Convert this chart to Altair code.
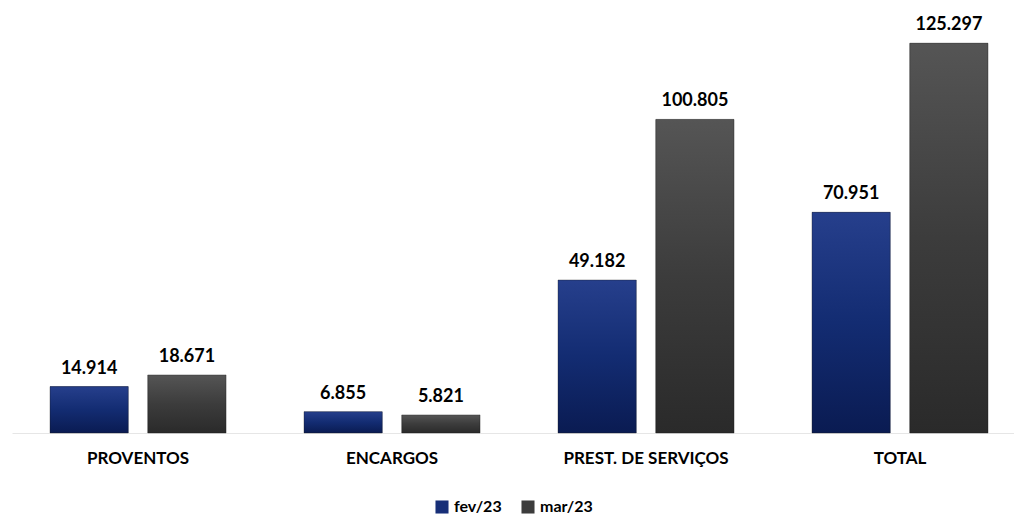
import altair as alt
import pandas as pd

categorias = ["PROVENTOS", "ENCARGOS", "PREST. DE SERVIÇOS", "TOTAL"]
series = ["fev/23", "mar/23"]
fev = [14.914, 6.855, 49.182, 70.951]
mar = [18.671, 5.821, 100.805, 125.297]

rows = []
for c, a, b in zip(categorias, fev, mar):
    rows.append({"cat": c, "serie": series[0], "valor": a, "rotulo": f"{a:.3f}"})
    rows.append({"cat": c, "serie": series[1], "valor": b, "rotulo": f"{b:.3f}"})
df = pd.DataFrame(rows)

FONT = "Lato"

grad_azul = {"gradient": "linear", "x1": 0, "y1": 0, "x2": 0, "y2": 1,
             "stops": [{"offset": 0, "color": "#263f8c"},
                       {"offset": 0.5, "color": "#132c72"},
                       {"offset": 1, "color": "#0a1b52"}]}
grad_cinza = {"gradient": "linear", "x1": 0, "y1": 0, "x2": 0, "y2": 1,
              "stops": [{"offset": 0, "color": "#555555"},
                        {"offset": 0.5, "color": "#3c3c3c"},
                        {"offset": 1, "color": "#2a2a2a"}]}

x = alt.X("cat:N", sort=categorias, title=None,
          scale=alt.Scale(paddingInner=0.307, paddingOuter=0.126, align=0.594),
          axis=alt.Axis(labelAngle=0, labelFont=FONT, labelFontWeight="bold",
                        labelFontSize=17, labelColor="#000", labelPadding=17,
                        ticks=False, domainColor="#e6e6e6", domainWidth=1))
xo = alt.XOffset("serie:N", sort=series, scale=alt.Scale(paddingInner=0.2, paddingOuter=0))
y = alt.Y("valor:Q", title=None, scale=alt.Scale(domain=[0, 135], nice=False),
          axis=None)

base = alt.Chart(df).encode(x=x, xOffset=xo, y=y)

bars = base.mark_bar().encode(
    color=alt.Color("serie:N", sort=series, title=None,
                    scale=alt.Scale(domain=series, range=["#172f78", "#3c3c3c"]),
                    legend=alt.Legend(orient="none", legendX=422, legendY=486,
                                      direction="horizontal",
                                      symbolType="square", symbolSize=170,
                                      symbolStrokeWidth=0,
                                      labelFont=FONT, labelFontWeight="bold",
                                      labelFontSize=16, labelColor="#000",
                                      labelOffset=4, columnPadding=18))
)

overlay = base.mark_bar(stroke="#1a1a1a", strokeOpacity=0.35, strokeWidth=1).encode(
    color=alt.condition(alt.datum.serie == "fev/23", alt.value(grad_azul), alt.value(grad_cinza))
)

labels = base.mark_text(dy=-18, font=FONT, fontWeight="bold", fontSize=18,
                        color="#000").encode(text="rotulo:N")

chart = (bars + overlay + labels).properties(
    width=1002, height=420,
    padding={"left": 4, "top": 5, "right": 0, "bottom": 2}
).configure_view(stroke=None)

chart.save("out.html", embed_options={"renderer": "svg", "actions": False})
